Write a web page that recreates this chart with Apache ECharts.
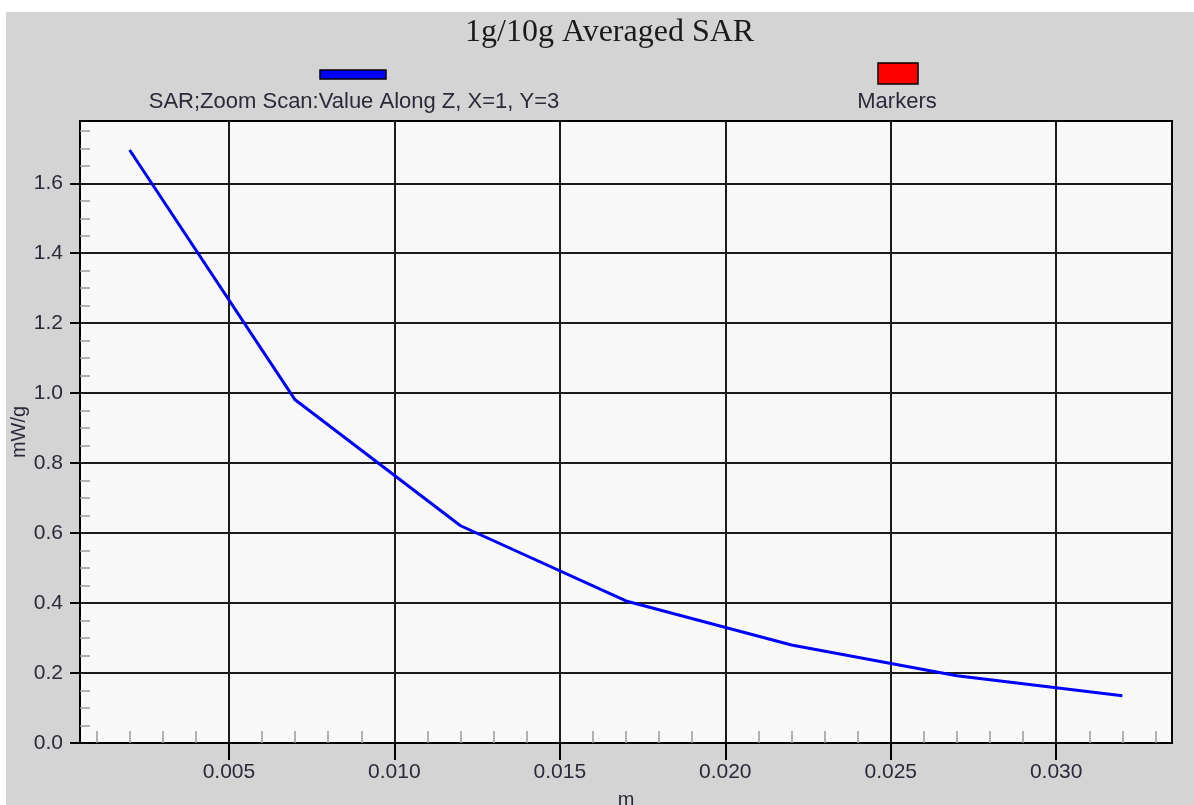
<!DOCTYPE html>
<html>
<head>
<meta charset="utf-8">
<title>1g/10g Averaged SAR</title>
<script src="https://cdn.jsdelivr.net/npm/echarts@6/dist/echarts.min.js"></script>
<style>
  html, body { margin: 0; padding: 0; background: #fff; }
  #bg { position: absolute; left: 6px; top: 12px; width: 1188px; height: 793px; background: #d4d4d4; }
  #main { position: absolute; left: 0; top: 0; width: 1194px; height: 805px; }
</style>
</head>
<body>
<div id="bg"></div>
<div id="main"></div>
<script>
  // distance along z (m) and averaged SAR (mW/g)
  var zPos = [0.002, 0.007, 0.012, 0.017, 0.022, 0.027, 0.032]
  var sarValues = [1.695, 0.981, 0.621, 0.406, 0.280, 0.192, 0.135]

  // tick values
  var xMajorTicks = [0.005, 0.010, 0.015, 0.020, 0.025, 0.030]
  var xMinorTicks = [0.001, 0.002, 0.003, 0.004, 0.006, 0.007, 0.008, 0.009,
    0.011, 0.012, 0.013, 0.014, 0.016, 0.017, 0.018, 0.019, 0.021, 0.022, 0.023, 0.024,
    0.026, 0.027, 0.028, 0.029, 0.031, 0.032, 0.033]
  var yMajorTicks = [0, 0.2, 0.4, 0.6, 0.8, 1.0, 1.2, 1.4, 1.6]
  var yMinorTicks = [0.05, 0.1, 0.15, 0.25, 0.3, 0.35, 0.45, 0.5, 0.55, 0.65, 0.7, 0.75,
    0.85, 0.9, 0.95, 1.05, 1.1, 1.15, 1.25, 1.3, 1.35, 1.45, 1.5, 1.55, 1.65, 1.7, 1.75]

  var seriesName = 'SAR;Zoom Scan:Value Along Z, X=1, Y=3'
  var markerName = 'Markers'

  var lineData = []
  for (let i = 0; i < zPos.length; i++) {
    lineData.push([zPos[i], sarValues[i]])
  }

  var font = 'Liberation Sans'
  var labelColor = '#2a2a38'

  var myChart = echarts.init(document.getElementById('main'))
  var option = {
    backgroundColor: 'transparent',
    animation: false,
    title: {
      text: '1g/10g Averaged SAR',
      left: 460,
      top: 12,
      textStyle: {
        fontFamily: 'Liberation Serif',
        fontSize: 32,
        fontWeight: 'normal',
        color: '#1a1a1a'
      }
    },
    // legend drawn by hand: swatch above the text
    graphic: [
      { type: 'rect', shape: { x: 320, y: 70, width: 66, height: 9 },
        style: { fill: '#0000ff', stroke: '#000', lineWidth: 1.5 } },
      { type: 'text', x: 354, y: 102,
        style: { text: seriesName, font: '22px "Liberation Sans"', fill: labelColor, align: 'center', verticalAlign: 'middle' } },
      { type: 'rect', shape: { x: 878, y: 63, width: 40, height: 21 },
        style: { fill: '#ff0000', stroke: '#000', lineWidth: 1.5 } },
      { type: 'text', x: 897, y: 102,
        style: { text: markerName, font: '22px "Liberation Sans"', fill: labelColor, align: 'center', verticalAlign: 'middle' } }
    ],
    grid: {
      left: 80,
      top: 121,
      right: 22,
      bottom: 62,
      containLabel: false,
      outerBoundsMode: 'none',
      show: true,
      backgroundColor: '#f9f9f9',
      borderColor: '#000',
      borderWidth: 2
    },
    xAxis: [
      {
        type: 'value',
        position: 'bottom',
        min: 0.0005,
        max: 0.0335,
        name: 'm',
        nameLocation: 'middle',
        nameGap: 47,
        nameMoveOverlap: false,
        nameTextStyle: { fontFamily: font, fontSize: 20, color: labelColor },
        axisLine: { lineStyle: { color: '#000', width: 2 } },
        axisTick: { customValues: xMajorTicks, length: 17, lineStyle: { color: '#000', width: 2 } },
        axisLabel: {
          customValues: xMajorTicks,
          margin: 19,
          fontFamily: font,
          fontSize: 21,
          color: labelColor,
          formatter: function (v) { return v.toFixed(3) }
        },
        splitLine: { show: true, lineStyle: { color: '#1c1c1c', width: 2 } }
      },
      {
        // minor ticks drawn inside
        type: 'value',
        position: 'bottom',
        min: 0.0005,
        max: 0.0335,
        axisLine: { show: false },
        axisTick: { customValues: xMinorTicks, inside: true, length: 12, lineStyle: { color: '#9a9a9a', width: 1.5 } },
        axisLabel: { show: false },
        splitLine: { show: false }
      }
    ],
    yAxis: [
      {
        type: 'value',
        position: 'left',
        min: 0,
        max: 1.778,
        name: 'mW/g',
        nameLocation: 'middle',
        nameGap: 51,
        nameMoveOverlap: false,
        nameTextStyle: { fontFamily: font, fontSize: 20, color: labelColor },
        axisLine: { show: true, lineStyle: { color: '#000', width: 2 } },
        axisTick: { show: true, customValues: yMajorTicks, length: 10, lineStyle: { color: '#000', width: 2 } },
        axisLabel: {
          customValues: yMajorTicks,
          margin: 17,
          fontFamily: font,
          fontSize: 21,
          color: labelColor,
          formatter: function (v) { return v.toFixed(1) }
        },
        splitLine: { show: true, lineStyle: { color: '#1c1c1c', width: 2 } }
      },
      {
        type: 'value',
        position: 'left',
        min: 0,
        max: 1.778,
        axisLine: { show: false },
        axisTick: { show: true, customValues: yMinorTicks, inside: true, length: 10, lineStyle: { color: '#9a9a9a', width: 1.5 } },
        axisLabel: { show: false },
        splitLine: { show: false }
      }
    ],
    series: [
      {
        name: seriesName,
        type: 'line',
        data: lineData,
        xAxisIndex: 0,
        yAxisIndex: 0,
        showSymbol: false,
        color: '#0000ff',
        lineStyle: { width: 3, color: '#0000ff' }
      },
      {
        name: markerName,
        type: 'line',
        data: [],
        color: '#ff0000'
      }
    ]
  }
  myChart.setOption(option, true)
</script>
</body>
</html>
